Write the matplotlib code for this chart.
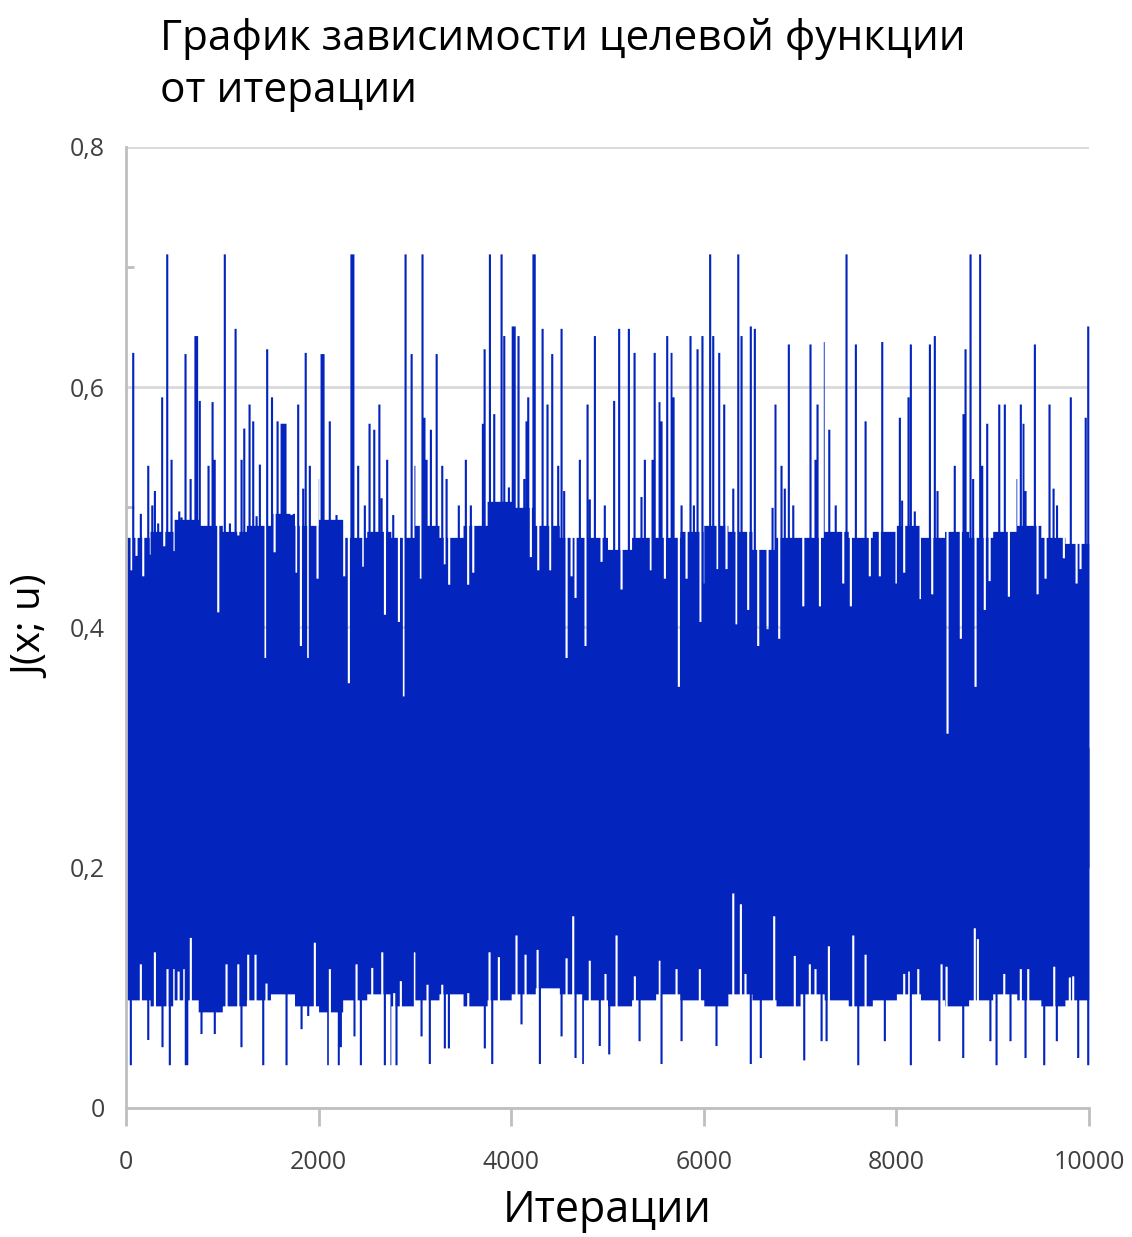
import numpy as np
import matplotlib.pyplot as plt
from matplotlib.ticker import FixedLocator

plt.rcParams['font.family'] = ['Open Sans', 'DejaVu Sans']

# Title and axis texts
title = "График зависимости целевой функции\nот итерации"
x_label = "Итерации"
y_label = "J(x; u)"

x_ticks = [0, 2000, 4000, 6000, 8000, 10000]
y_ticks = [0, 0.2, 0.4, 0.6, 0.8]
y_tick_labels = ["0", "0,2", "0,4", "0,6", "0,8"]

n_iter = 10000
block = 250  # width of one block for the base levels

# top edge of the dense band, one level per block of 250 iterations
top_base = [0.475, 0.48, 0.49, 0.485, 0.48, 0.485, 0.495, 0.485, 0.49, 0.475,
            0.48, 0.475, 0.485, 0.475, 0.485, 0.505, 0.50, 0.485, 0.475, 0.475,
            0.465, 0.475, 0.475, 0.48, 0.485, 0.48, 0.465, 0.475, 0.475, 0.48,
            0.475, 0.48, 0.485, 0.475, 0.48, 0.475, 0.48, 0.485, 0.475, 0.47]

# bottom edge of the dense band, one level per block of 250 iterations
bottom_base = [0.09, 0.085, 0.09, 0.08, 0.085, 0.09, 0.095, 0.085, 0.08, 0.09,
               0.095, 0.085, 0.09, 0.095, 0.085, 0.09, 0.095, 0.10, 0.095, 0.09,
               0.085, 0.09, 0.095, 0.09, 0.085, 0.095, 0.09, 0.085, 0.095, 0.09,
               0.085, 0.09, 0.095, 0.09, 0.085, 0.09, 0.095, 0.09, 0.085, 0.09]

# single iterations where the top edge jumps up (peaks) or drops (dips)
top_iter = [42, 59, 93, 138, 163, 215, 242, 257, 284, 318, 360, 381, 412, 457,
            488, 537, 561, 602, 655, 705, 722, 750, 841, 883, 905, 942, 1010,
            1063, 1122, 1150, 1184, 1212, 1267, 1305, 1340, 1374, 1433, 1450,
            1500, 1527, 1558, 1600, 1620, 1640, 1703, 1755, 1772, 1800, 1824,
            1850, 1876, 1893, 1973, 1997, 2015, 2035, 2100, 2170, 2250, 2298,
            2325, 2345, 2395, 2448, 2464, 2513, 2562, 2615, 2638, 2673, 2696,
            2759, 2818, 2870, 2887, 2950, 2990, 3046, 3063, 3085, 3105, 3150,
            3210, 3268, 3295, 3313, 3340, 3440, 3513, 3537, 3565, 3590, 3690,
            3708, 3763, 3808, 3884, 3912, 3960, 4000, 4020, 4060, 4120, 4143,
            4161, 4188, 4215, 4235, 4265, 4310, 4361, 4390, 4410, 4472, 4507,
            4534, 4559, 4611, 4652, 4697, 4756, 4777, 4800, 4853, 4922, 4956,
            5053, 5105, 5130, 5206, 5265, 5337, 5372, 5434, 5452, 5474, 5525,
            5545, 5580, 5604, 5650, 5670, 5725, 5753, 5805, 5846, 5881, 5919,
            5950, 5970, 5995, 6050, 6082, 6127, 6144, 6196, 6220, 6290, 6324,
            6342, 6376, 6445, 6472, 6514, 6549, 6646, 6698, 6729, 6767, 6791,
            6825, 6867, 6913, 7017, 7092, 7144, 7165, 7190, 7241, 7287, 7354,
            7432, 7466, 7511, 7563, 7664, 7708, 7812, 7837, 7985, 8020, 8044,
            8065, 8110, 8134, 8175, 8235, 8332, 8356, 8383, 8411, 8515, 8590,
            8653, 8681, 8702, 8754, 8781, 8806, 8854, 8875, 8902, 8927, 8952,
            9052, 9110, 9152, 9242, 9276, 9305, 9325, 9422, 9450, 9533, 9574,
            9616, 9652, 9723, 9795, 9855, 9896, 9950, 9976]
top_val = [0.448, 0.629, 0.460, 0.495, 0.443, 0.535, 0.461, 0.502, 0.514, 0.487,
           0.592, 0.468, 0.711, 0.540, 0.464, 0.497, 0.492, 0.628, 0.524, 0.643,
           0.643, 0.589, 0.535, 0.588, 0.540, 0.413, 0.711, 0.487, 0.649, 0.477,
           0.540, 0.566, 0.586, 0.572, 0.493, 0.536, 0.375, 0.632, 0.592, 0.463,
           0.572, 0.570, 0.570, 0.570, 0.494, 0.446, 0.586, 0.385, 0.516, 0.629,
           0.375, 0.535, 0.441, 0.524, 0.628, 0.628, 0.572, 0.494, 0.443, 0.354,
           0.711, 0.711, 0.535, 0.451, 0.502, 0.570, 0.565, 0.586, 0.508, 0.411,
           0.540, 0.494, 0.405, 0.343, 0.711, 0.628, 0.535, 0.441, 0.711, 0.575,
           0.540, 0.565, 0.628, 0.535, 0.453, 0.524, 0.436, 0.502, 0.540, 0.436,
           0.502, 0.446, 0.570, 0.632, 0.711, 0.578, 0.711, 0.643, 0.517, 0.651,
           0.651, 0.643, 0.524, 0.572, 0.592, 0.459, 0.711, 0.711, 0.448, 0.649,
           0.586, 0.448, 0.628, 0.535, 0.649, 0.514, 0.375, 0.443, 0.425, 0.540,
           0.385, 0.586, 0.507, 0.643, 0.455, 0.502, 0.589, 0.649, 0.432, 0.649,
           0.629, 0.509, 0.540, 0.448, 0.540, 0.629, 0.588, 0.572, 0.441, 0.643,
           0.629, 0.592, 0.351, 0.502, 0.441, 0.643, 0.502, 0.632, 0.405, 0.643,
           0.437, 0.711, 0.643, 0.449, 0.629, 0.586, 0.449, 0.516, 0.403, 0.711,
           0.643, 0.415, 0.651, 0.649, 0.385, 0.399, 0.500, 0.586, 0.391, 0.535,
           0.516, 0.636, 0.502, 0.418, 0.636, 0.540, 0.586, 0.418, 0.638, 0.565,
           0.502, 0.437, 0.711, 0.418, 0.636, 0.572, 0.443, 0.443, 0.638, 0.437,
           0.575, 0.506, 0.446, 0.592, 0.636, 0.497, 0.424, 0.636, 0.428, 0.643,
           0.514, 0.312, 0.535, 0.391, 0.578, 0.632, 0.711, 0.524, 0.351, 0.711,
           0.535, 0.415, 0.570, 0.439, 0.586, 0.586, 0.426, 0.524, 0.586, 0.570,
           0.514, 0.636, 0.428, 0.441, 0.586, 0.516, 0.502, 0.458, 0.592, 0.437,
           0.449, 0.575, 0.651]

# single iterations where the bottom edge drops (dips) or rises (gaps)
bottom_iter = [34, 138, 215, 284, 363, 415, 439, 485, 530, 589, 605, 620, 657,
               768, 906, 1028, 1150, 1183, 1253, 1329, 1409, 1443, 1651, 1807,
               1876, 1945, 2084, 2101, 2194, 2215, 2357, 2378, 2423, 2541, 2645,
               2672, 2741, 2769, 2793, 2838, 2984, 3053, 3115, 3139, 3268, 3295,
               3337, 3538, 3710, 3759, 3787, 3856, 4039, 4091, 4133, 4258, 4282,
               4507, 4559, 4628, 4652, 4732, 4800, 4904, 4963, 5002, 5078, 5268,
               5317, 5527, 5545, 5701, 5753, 5943, 6116, 6290, 6369, 6417, 6472,
               6576, 6715, 6929, 7027, 7085, 7144, 7207, 7259, 7283, 7536, 7588,
               7664, 7864, 8065, 8117, 8134, 8211, 8430, 8453, 8505, 8678, 8798,
               8830, 8960, 9024, 9104, 9169, 9276, 9325, 9353, 9519, 9623, 9650,
               9785, 9820, 9872, 9976]
bottom_val = [0.036, 0.120, 0.057, 0.130, 0.051, 0.116, 0.036, 0.116, 0.114, 0.116,
              0.036, 0.036, 0.142, 0.062, 0.062, 0.120, 0.120, 0.051, 0.128, 0.128,
              0.036, 0.104, 0.036, 0.066, 0.077, 0.138, 0.036, 0.116, 0.036, 0.051,
              0.060, 0.120, 0.036, 0.117, 0.130, 0.036, 0.036, 0.096, 0.036, 0.106,
              0.130, 0.060, 0.103, 0.037, 0.103, 0.050, 0.050, 0.096, 0.050, 0.130,
              0.037, 0.126, 0.144, 0.070, 0.128, 0.132, 0.037, 0.060, 0.125, 0.160,
              0.042, 0.037, 0.123, 0.052, 0.112, 0.045, 0.144, 0.110, 0.056, 0.123,
              0.037, 0.116, 0.056, 0.116, 0.052, 0.179, 0.170, 0.112, 0.037, 0.042,
              0.160, 0.127, 0.040, 0.120, 0.116, 0.056, 0.056, 0.135, 0.144, 0.036,
              0.128, 0.056, 0.112, 0.114, 0.036, 0.116, 0.056, 0.120, 0.118, 0.042,
              0.150, 0.141, 0.056, 0.036, 0.112, 0.056, 0.116, 0.042, 0.116, 0.036,
              0.118, 0.056, 0.109, 0.110, 0.042, 0.036]


def edge(base, ev_iter, ev_val, w=22):
    # step edge: block levels plus narrow one-off values
    pts = [(b, base[k]) for k, b in enumerate(range(0, n_iter, block))]
    for j, (it, v) in enumerate(zip(ev_iter, ev_val)):
        pts.append((it, v))
        nxt = ev_iter[j + 1] if j + 1 < len(ev_iter) else n_iter
        if it + w < nxt:
            pts.append((it + w, base[min((it + w) // block, len(base) - 1)]))
    pts.sort(key=lambda p: p[0])
    xs = np.array([p[0] for p in pts] + [n_iter])
    ys = np.array([p[1] for p in pts] + [pts[-1][1]])
    return xs, ys


blue = "#0424BE"
fig = plt.figure(figsize=(11.32, 12.37), dpi=100)
ax = fig.add_axes([0.1113, 0.1043, 0.8507, 0.7769])

tx, ty = edge(top_base, top_iter, top_val)
bx, by = edge(bottom_base, bottom_iter, bottom_val)
ax.fill_between(tx, 0.2, ty, step="post", color=blue, lw=0, zorder=2)
ax.fill_between(bx, by, 0.3, step="post", color=blue, lw=0, zorder=2)

ax.set_xlim(0, n_iter)
ax.set_ylim(0, 0.8)

ax.set_xticks(x_ticks)
ax.set_xticklabels([str(t) for t in x_ticks])
ax.set_yticks(y_ticks)
ax.set_yticklabels(y_tick_labels)
ax.yaxis.set_minor_locator(FixedLocator([0.1, 0.3, 0.5, 0.7]))

ax.grid(axis="y", color="#D9D9D9", lw=2, zorder=1)
ax.set_axisbelow(True)
for s in ["top", "right"]:
    ax.spines[s].set_visible(False)
for s in ["left", "bottom"]:
    ax.spines[s].set_color("#BFBFBF")
    ax.spines[s].set_linewidth(2)
    ax.spines[s].set_zorder(3)

ax.tick_params(axis="x", direction="out", length=13, width=2, color="#BFBFBF",
               labelsize=18, labelcolor="#404040", pad=17)
ax.tick_params(axis="y", which="major", length=0, labelsize=18,
               labelcolor="#404040", pad=15)
ax.tick_params(axis="y", which="minor", direction="in", length=6, width=2,
               color="#BFBFBF")

ax.set_xlabel(x_label, fontsize=31, labelpad=10)
ax.set_ylabel(y_label, fontsize=29, labelpad=12)

fig.text(0.141, 1 - 18 / 1237, title, fontsize=30.5, ha="left", va="top",
         linespacing=1.32)

fig.savefig("out.png", dpi=100)
